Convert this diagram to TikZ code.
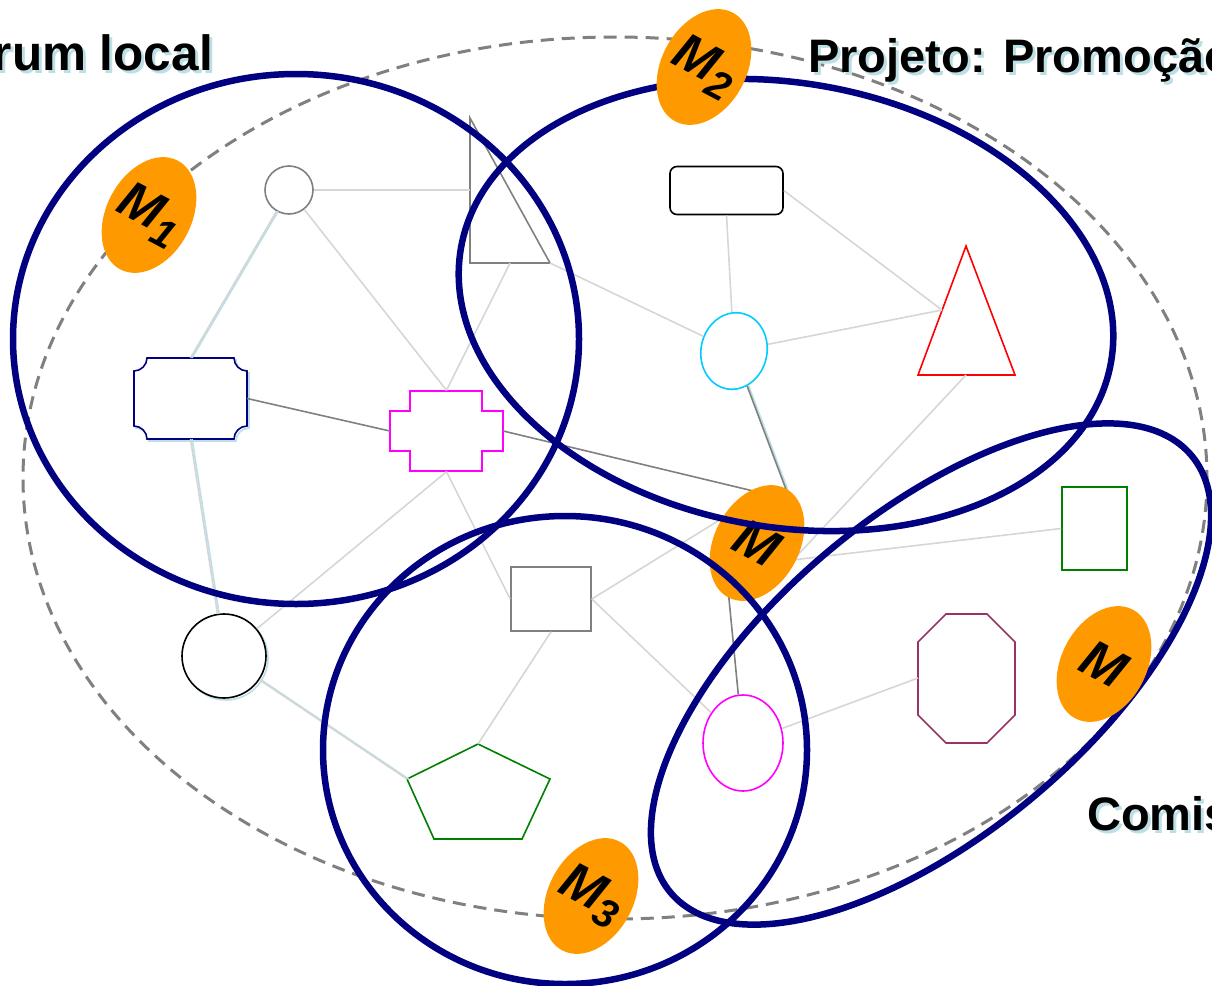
\documentclass[tikz,border=0pt]{standalone}
\usepackage{fontspec}
\setmainfont{Liberation Sans}
\usetikzlibrary{shapes.geometric}

\definecolor{navyc}{HTML}{000080}
\definecolor{orangec}{HTML}{FF9900}
\definecolor{shadowc}{HTML}{BCDFE6}
\definecolor{linkc}{HTML}{D6D6D6}
\definecolor{darkc}{HTML}{808080}
\definecolor{cyanc}{HTML}{00CCFF}
\definecolor{magc}{HTML}{FF00FF}
\definecolor{octc}{HTML}{993366}
\definecolor{greenc}{HTML}{008000}

\tikzset{
  group/.style={draw=navyc, line width=6.5pt},
  fig/.style={line width=1.6pt, fill=white},
  link/.style={draw=linkc, line width=1.6pt},
  darklink/.style={draw=darkc, line width=1.6pt},
  shadowlink/.style={link, preaction={draw=shadowc, line width=1.6pt, transform canvas={xshift=1.6pt}}},
  mnode/.style={ellipse, fill=orangec, minimum width=85pt, minimum height=123pt, inner sep=0pt, rotate=-28,
    font=\fontsize{52}{52}\selectfont\bfseries\itshape},
  title/.style={inner sep=0pt, font=\fontsize{47}{56}\selectfont\bfseries},
}
\newcommand{\msub}[1]{\raisebox{-10pt}{\fontsize{40}{40}\selectfont #1}}

\begin{document}
\begin{tikzpicture}[x=1pt, y=-1pt]
  \useasboundingbox (0,0) rectangle (1212,985);
  \clip (0,0) rectangle (1212,985);

  % dashed outer group
  \draw [darkc, line width=3pt, dash pattern=on 13pt off 8pt] (615,478) ellipse [x radius=592, y radius=441];

  % actors
  \node [fig, circle, draw=darkc, minimum size=48pt, inner sep=0pt] (sc) at (289,190) {};
  \draw [fig, draw=darkc] (470,118) coordinate (triT) -- (470,263) coordinate (triBL) -- (550,263) coordinate (triBR) -- cycle;
  \coordinate (triL) at (470,190);
  \coordinate (triB) at (510,263);
  \node [fig, draw=black, rounded corners=7pt, minimum width=113pt, minimum height=48pt] (rr) at (726.5,190.5) {};
  \node [fig, ellipse, draw=cyanc, minimum width=66pt, minimum height=77pt, inner sep=0pt, rotate=-12] (cy) at (734,351) {};
  \draw [fig, draw=red] (966,246) coordinate (rtT) -- (1015,375) coordinate (rtR) -- (918,375) coordinate (rtL) -- cycle;
  \coordinate (rtS) at (942,310);
  \coordinate (rtB) at (966,375);

  \node [minimum width=113pt, minimum height=81pt, inner sep=0pt] (brk) at (190.5,398.5) {};
  \draw [fig, draw=shadowc] (149,360) -- (236,360) .. controls (236,367) and (242,373) .. (249,373)
    -- (249,428) .. controls (242,428) and (236,434) .. (236,441)
    -- (149,441) .. controls (149,434) and (143,428) .. (136,428)
    -- (136,373) .. controls (143,373) and (149,367) .. (149,360) -- cycle;
  \draw [fig, draw=navyc] (147,358) -- (234,358) .. controls (234,365) and (240,371) .. (247,371)
    -- (247,426) .. controls (240,426) and (234,432) .. (234,439)
    -- (147,439) .. controls (147,432) and (141,426) .. (134,426)
    -- (134,371) .. controls (141,371) and (147,365) .. (147,358) -- cycle;

  \node [minimum width=113pt, minimum height=81pt, inner sep=0pt] (crs) at (446.5,431) {};
  \draw [fig, draw=magc] (410,391) -- (482,391) -- (482,411) -- (503,411) -- (503,451) -- (482,451)
    -- (482,471) -- (410,471) -- (410,451) -- (390,451) -- (390,411) -- (410,411) -- cycle;

  \node [fig, circle, draw=shadowc, minimum size=84pt, inner sep=0pt] (bcsh) at (226,658) {};
  \node [fig, circle, draw=black, minimum size=84pt, inner sep=0pt] (bc) at (224,656) {};
  \node [fig, draw=darkc, minimum width=80pt, minimum height=64pt] (sq) at (551,599) {};
  \draw [fig, draw=greenc] (478,744) coordinate (pT) -- (550,779) coordinate (pR) -- (522,839) coordinate (pBR)
    -- (434,839) coordinate (pBL) -- (407,779) coordinate (pL) -- cycle;
  \node [fig, ellipse, draw=magc, minimum width=80pt, minimum height=96pt, inner sep=0pt] (cm) at (743,743) {};
  \draw [fig, draw=octc] (946,614) -- (987,614) -- (1015,642) -- (1015,715) -- (987,743) -- (946,743) -- (918,715) -- (918,642) -- cycle;
  \coordinate (ocW) at (918,678);
  \node [fig, draw=greenc, minimum width=65pt, minimum height=83pt] (gr) at (1094.5,528.5) {};

  % ends hidden under the central M
  \coordinate (mc1) at (770,495);
  \coordinate (mc2) at (790,500);
  \coordinate (mc3) at (725,558);
  \coordinate (mc4) at (739,508);
  \coordinate (mc5) at (779,575);
  \coordinate (mc6) at (775,562);

  % links
  \draw [link] (sc) -- (triL);
  \draw [shadowlink] (sc) -- (brk.north);
  \draw [link] (sc) -- (crs.north);
  \draw [link] (triB) -- (crs.north);
  \draw [link] (triBR) -- (cy);
  \draw [link] (rr.south) -- (cy);
  \draw [link] (rr.east) -- (rtS);
  \draw [link] (cy) -- (rtS);
  \draw [link] (crs.south) -- (bc);
  \draw [link] (crs.south) -- (sq.west);
  \draw [shadowlink] (brk.south) -- (bc);
  \draw [shadowlink] (bc) -- (pL);
  \draw [link] (sq.south) -- (pT);
  \draw [link] (sq.east) -- (mc4);
  \draw [link] (sq.east) -- (cm);
  \draw [link] (cm) -- (ocW);
  \draw [link] (rtB) -- (mc5);
  \draw [link] (gr.west) -- (mc6);
  \draw [darklink] (brk.east) -- (crs.west);
  \draw [darklink] (crs.east) -- (mc1);
  \draw [darklink, preaction={draw=shadowc, line width=1.6pt, transform canvas={xshift=1.6pt}}] (cy) -- (mc2);
  \draw [darklink] (mc3) -- (cm);

  \node [mnode] (mc) at (757,543) {\makebox[0pt]{M}};

  % groups
  \draw [group] (296,339) ellipse [x radius=283, y radius=265];
  \draw [group, rotate around={-10:(786,305)}] (786,305) ellipse [x radius=330, y radius=222];
  \draw [group] (565,750) ellipse [x radius=242, y radius=234];
  \draw [group, rotate around={40:(931,674)}] (931,674) ellipse [x radius=340, y radius=160];

  \node [mnode] (m1) at (149,215) {\makebox[0pt]{M\msub{1}}};
  \node [mnode] (m2) at (704,67) {\makebox[0pt]{M\msub{2}}};
  \node [mnode] (m3) at (591,896) {\makebox[0pt]{M\msub{3}}};
  \node [mnode] (mr) at (1104,664) {\makebox[0pt]{M}};

  % titles
  \path (216,73) node [title, shadowc, anchor=base east, font=\fontsize{49.5}{56}\selectfont\bfseries] (forumsh) {Fórum local};
  \path (213,70) node [title, anchor=base east, font=\fontsize{49.5}{56}\selectfont\bfseries] (forum) {Fórum local};
  \path (811,75) node [title, shadowc, anchor=base west] (projsh) {Projeto: Promoção};
  \path (808,72) node [title, anchor=base west] (proj) {Projeto: Promoção};
  \path (1090,833) node [title, shadowc, anchor=base west] (comsh) {Comissão};
  \path (1087,830) node [title, anchor=base west] (com) {Comissão};
\end{tikzpicture}
\end{document}
